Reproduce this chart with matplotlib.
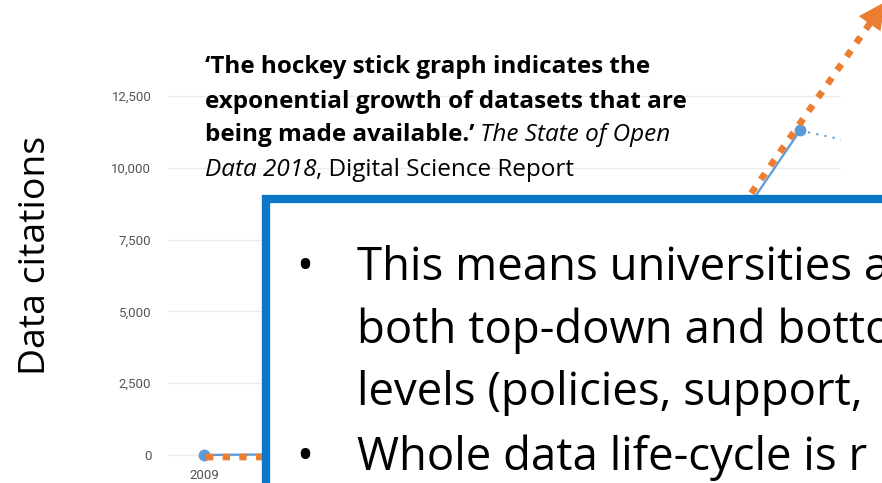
import matplotlib.pyplot as plt
from matplotlib.patches import Rectangle

W, H = 882, 483

# data citations per year (most points hidden under the box)
years = [2009, 2010, 2011, 2012, 2013, 2014, 2015, 2016, 2017, 2018]
citations = [0, 20, 60, 150, 350, 900, 2100, 4500, 7900, 11300]
# partial year shown dotted
partial_years = [2018, 2019]
partial_citations = [11300, 10800]
# only the first year label is left uncovered on the slide
x_ticks = [2009]

# hand drawn "hockey stick" arrow, in data units
trend_x = [2009.03, 2014.5, 2017.35]
trend_y = [-70, -70, 9400]
arrow_tip = (2019.28, 15770)

y_ticks = [0, 2500, 5000, 7500, 10000, 12500]
y_ticklabels = ['0', '2,500', '5,000', '7,500', '10,000', '12,500']

quote_lines = [
    [("‘The hockey stick graph indicates the", 'bold', 'normal')],
    [("exponential growth of datasets that are", 'bold', 'normal')],
    [("being made available.’", 'bold', 'normal'), (" The State of Open", 'normal', 'italic')],
    [("Data 2018", 'normal', 'italic'), (", Digital Science Report", 'normal', 'normal')],
]
bullets = [
    (True, "This means universities a"),
    (False, "both top-down and botto"),
    (False, "levels (policies, support,"),
    (True, "Whole data life-cycle is r"),
]

FONT = 'Open Sans'
blue = '#5a9bd8'
orange = '#ed7d31'
box_blue = '#0a77c8'

fig = plt.figure(figsize=(W / 100, H / 100), dpi=100)
renderer = fig.canvas.get_renderer()


def fx(px):
    return px / W


def fy(py):
    return 1 - py / H


def fit_size(text, target, **kw):
    # font size that makes text the given width in pixels
    t = fig.text(0, 0, text, fontsize=10, **kw)
    w = t.get_window_extent(renderer).width
    t.remove()
    return 10 * target / w


# axes placed so that 2009 -> x=204px, 2018 -> x=800px, 0 -> y=455px, 12500 -> y=96px
x0, x1 = 168, 841
per_year = (800 - 204) / 9
xlim = (2009 - (204 - x0) / per_year, 2018 + (x1 - 800) / per_year)
per_unit = (455 - 96) / 12500
ylim = (-300, 13000)
top = 455 - ylim[1] * per_unit
bot = 455 - ylim[0] * per_unit
ax = fig.add_axes([fx(x0), fy(bot), fx(x1) - fx(x0), (bot - top) / H])
ax.set_xlim(xlim)
ax.set_ylim(ylim)
for s in ax.spines.values():
    s.set_visible(False)
ax.set_yticks(y_ticks)
ax.set_yticklabels(y_ticklabels, fontfamily='Roboto', fontsize=9.5, color='#555555')
ax.set_xticks(x_ticks)
ax.set_xticklabels([str(y) for y in x_ticks], fontfamily='Roboto', fontsize=9.5, color='#555555')
ax.tick_params(length=0, axis='y', pad=12)
ax.tick_params(length=0, axis='x', pad=4)
ax.grid(axis='y', color='#ebebeb', linewidth=1)
ax.set_axisbelow(True)

ax.plot(years, citations, color=blue, linewidth=1.6, marker='o', markersize=7.5, zorder=3)
ax.plot(partial_years, partial_citations, color=blue, linewidth=1.5, linestyle=(0, (1, 3)), zorder=3)

ax.plot(trend_x + [arrow_tip[0]], trend_y + [arrow_tip[1]], color=orange, linewidth=4.8,
        linestyle=(0, (1.1, 1.4)), solid_capstyle='butt', clip_on=False, zorder=4)
ax.annotate('', xy=arrow_tip, xytext=(trend_x[-1], trend_y[-1]), annotation_clip=False,
            arrowprops=dict(arrowstyle='-|>,head_length=1.9,head_width=0.95', color=orange,
                            linewidth=0, shrinkA=0, shrinkB=0), zorder=4)

ysize = fit_size('Data citations', 240, fontfamily=FONT)
fig.text(fx(36), fy(255), 'Data citations', rotation=90, ha='center', va='center',
         fontfamily=FONT, fontsize=ysize, color='black')

# quote, drawn run by run in pixel positions
qsize = fit_size(quote_lines[0][0][0], 446, fontfamily=FONT, fontweight='bold')
for i, runs in enumerate(quote_lines):
    x = 205
    base = [73, 108, 141, 176][i]
    for text, weight, style in runs:
        t = fig.text(fx(x), fy(base), text, fontfamily=FONT, fontsize=qsize, fontweight=weight,
                     fontstyle=style, va='baseline', ha='left', zorder=3)
        x += t.get_window_extent(renderer).width

# overlay box
fig.add_artist(Rectangle((fx(266), fy(H + 40)), fx(W + 40 - 266), fy(199) - fy(H + 40),
                         transform=fig.transFigure, facecolor='white', edgecolor=box_blue,
                         linewidth=6, zorder=5))
bsize = fit_size('This means universities ', 508, fontfamily=FONT)
for i, (has_bullet, text) in enumerate(bullets):
    base = [280, 343, 405, 470][i]
    if has_bullet:
        fig.text(fx(305), fy(base), '•', ha='center', va='baseline', fontfamily=FONT,
                 fontsize=bsize, zorder=6)
    fig.text(fx(357), fy(base), text, ha='left', va='baseline', fontfamily=FONT,
             fontsize=bsize, zorder=6)

fig.savefig('out.png', dpi=100)
